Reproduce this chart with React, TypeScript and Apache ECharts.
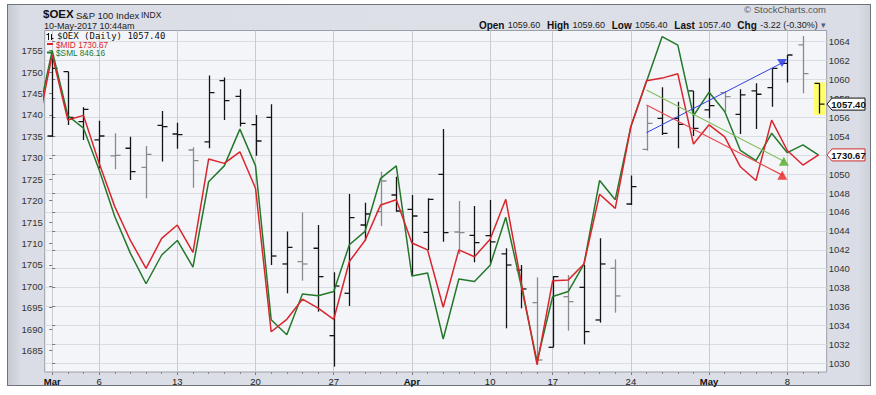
import React, { useEffect, useRef } from 'react';
import * as echarts from 'echarts';

// ---- data ----
const dates = [
  '2017-03-01', '2017-03-02', '2017-03-03', '2017-03-06', '2017-03-07', '2017-03-08', '2017-03-09', '2017-03-10',
  '2017-03-13', '2017-03-14', '2017-03-15', '2017-03-16', '2017-03-17', '2017-03-20', '2017-03-21', '2017-03-22',
  '2017-03-23', '2017-03-24', '2017-03-27', '2017-03-28', '2017-03-29', '2017-03-30', '2017-03-31',
  '2017-04-03', '2017-04-04', '2017-04-05', '2017-04-06', '2017-04-07', '2017-04-10', '2017-04-11', '2017-04-12',
  '2017-04-13', '2017-04-17', '2017-04-18', '2017-04-19', '2017-04-20', '2017-04-21', '2017-04-24', '2017-04-25',
  '2017-04-26', '2017-04-27', '2017-04-28',
  '2017-05-01', '2017-05-02', '2017-05-03', '2017-05-04', '2017-05-05', '2017-05-08', '2017-05-09', '2017-05-10',
];
// $OEX daily OHLC (right axis)
const oexOpen = [
  1054.03, 1060.83, 1055.55, 1053.61, 1051.92, 1052.73, 1050.72, 1055.16, 1054.24, 1052.55,
  1053.40, 1059.88, 1058.22, 1055.23, 1056.00, 1040.50, 1040.75, 1042.16, 1032.92, 1037.40,
  1044.62, 1046.03, 1047.79, 1046.28, 1043.85, 1049.98, 1043.88, 1043.53, 1043.49, 1041.56,
  1039.86, 1036.41, 1031.69, 1037.04, 1038.03, 1034.58, 1040.04, 1046.84, 1052.62, 1055.90,
  1055.90, 1058.79, 1056.78, 1058.61, 1056.32, 1058.79, 1059.14, 1061.71, 1063.65, 1059.60,
];
const oexHigh = [
  1062.42, 1060.83, 1057.06, 1055.65, 1054.31, 1053.96, 1052.97, 1056.67, 1055.44, 1052.83,
  1060.41, 1060.20, 1058.96, 1056.25, 1057.38, 1043.92, 1045.93, 1044.62, 1039.62, 1047.90,
  1046.98, 1050.26, 1049.73, 1047.79, 1047.44, 1054.77, 1047.16, 1046.63, 1047.27, 1042.16,
  1040.39, 1039.09, 1039.23, 1039.33, 1040.39, 1043.21, 1040.99, 1049.84, 1057.31, 1059.18,
  1057.66, 1058.79, 1060.13, 1058.79, 1058.96, 1059.60, 1061.18, 1062.59, 1064.60, 1059.60,
];
const oexLow = [
  1053.96, 1055.19, 1053.61, 1050.61, 1050.51, 1049.38, 1047.44, 1051.32, 1052.69, 1048.57,
  1052.73, 1055.72, 1055.02, 1051.95, 1040.39, 1037.40, 1038.74, 1035.46, 1029.65, 1036.06,
  1042.97, 1044.51, 1046.03, 1039.23, 1041.98, 1042.86, 1041.56, 1040.68, 1040.57, 1033.70,
  1035.81, 1029.82, 1031.69, 1033.45, 1032.00, 1034.30, 1035.35, 1046.74, 1052.48, 1054.14,
  1052.73, 1054.03, 1055.90, 1056.60, 1054.24, 1054.77, 1057.13, 1059.67, 1058.54, 1056.40,
];
const oexClose = [
  1061.18, 1056.00, 1056.85, 1054.03, 1051.99, 1050.26, 1052.09, 1055.02, 1054.17, 1051.42,
  1058.61, 1057.77, 1055.37, 1053.50, 1041.34, 1042.26, 1040.50, 1039.16, 1038.17, 1045.40,
  1045.78, 1049.27, 1046.10, 1045.57, 1047.33, 1043.81, 1043.81, 1042.75, 1042.83, 1040.39,
  1037.86, 1030.35, 1039.16, 1036.52, 1033.35, 1040.50, 1037.12, 1048.67, 1055.37, 1054.31,
  1055.26, 1054.84, 1057.24, 1058.19, 1058.37, 1058.44, 1061.18, 1062.59, 1060.62, 1057.40,
];
// bars drawn in grey
const greyBars = [4, 6, 9, 16, 21, 26, 31, 33, 36, 38, 43, 48];

// overlays: first value is 2017-02-28 (partly visible at the left edge)
const priorDay = '2017-02-28';
const mid = [
  1736.0, 1754.0, 1738.8, 1739.9, 1728.7, 1718.6, 1710.7, 1704.2, 1711.2, 1714.3, 1707.9,
  1729.7, 1728.7, 1731.4, 1722.9, 1689.4, 1692.3, 1697.0, 1694.9, 1692.3, 1705.8,
  1710.7, 1719.0, 1720.2, 1710.1, 1708.5, 1695.1, 1708.5, 1706.9, 1711.0, 1720.3,
  1700.7, 1681.7, 1701.3, 1701.5, 1705.2, 1721.5, 1718.2, 1737.3, 1748.0, 1748.6,
  1749.6, 1733.2, 1737.7, 1734.9, 1727.9, 1724.7, 1738.8, 1731.7, 1728.3, 1730.67,
];
const sml = [
  849.76, 858.07, 850.64, 849.22, 844.48, 839.15, 834.94, 831.47, 834.75, 836.41, 833.38,
  843.11, 844.92, 849.12, 844.92, 827.37, 825.66, 830.30, 830.10, 830.59, 835.92,
  837.44, 843.50, 844.92, 832.35, 832.70, 825.17, 832.01, 831.72, 833.58, 839.05,
  831.13, 822.62, 830.01, 830.59, 833.72, 843.26, 841.06, 849.42, 854.55, 859.68,
  858.70, 850.64, 853.33, 851.13, 846.68, 845.51, 848.64, 846.43, 847.31, 846.16,
];

// tick labels
const midTicks = [1685, 1690, 1695, 1700, 1705, 1710, 1715, 1720, 1725, 1730, 1735, 1740, 1745, 1750, 1755];
const oexTicks = [1030, 1032, 1034, 1036, 1038, 1040, 1042, 1044, 1046, 1048, 1050, 1052, 1054, 1056, 1058, 1060, 1062, 1064];
// right-axis labels that are visible (1052 sits under the $MID price tag)
const oexLabels = [1030, 1032, 1034, 1036, 1038, 1040, 1042, 1044, 1046, 1048, 1050, 1054, 1056, 1058, 1060, 1062, 1064];

// annotation trend lines [dayIndex, value]
const blueTrend = [[38.0, 1054.38], [46.66, 1061.75]]; // on $OEX scale
const greenTrend = [[38.0, 1745.83], [46.78, 1729.21]]; // on $MID scale
const redTrend = [[38.0, 1742.33], [46.68, 1725.95]]; // on $MID scale

// ---- layout ----
const W = 876;
const H = 395;
const FONT = '"Liberation Sans", Arial, sans-serif';
const MONTHS = ['Jan', 'Feb', 'Mar', 'Apr', 'May', 'Jun', 'Jul', 'Aug', 'Sep', 'Oct', 'Nov', 'Dec'];

function buildAxisLabels() {
  const ticks: number[] = [];
  const labels: Record<number, string> = {};
  let lastMonth = -1;
  let prevDow = 99;
  dates.forEach((d, i) => {
    const dt = new Date(d + 'T00:00:00Z');
    const dow = dt.getUTCDay();
    if (i === 0 || dow < prevDow) {
      ticks.push(i);
      const m = dt.getUTCMonth();
      labels[i] = m !== lastMonth ? '{m|' + MONTHS[m] + '}' : String(dt.getUTCDate());
      lastMonth = m;
    }
    prevDow = dow;
  });
  return { ticks, labels };
}

export default function App() {
  const ref = useRef<HTMLDivElement>(null);

  useEffect(() => {
    if (!ref.current) return;
    const chart = echarts.init(ref.current, null, { renderer: 'svg', width: W, height: H });
    const { ticks: weekTicks, labels } = buildAxisLabels();
    const allDays = dates.map((_, i) => i);
    const last = dates.length - 1;
    const xMin = -0.48;
    const xMax = 49.52;

    const option: any = {
      animation: false,
      grid: {
        left: 44.7, top: 30.5, width: 782, height: 341.5,
        show: true, backgroundColor: '#f4f5f9', borderColor: '#9a9ea6', borderWidth: 1,
      },
      xAxis: [
        {
          type: 'value', min: xMin, max: xMax, position: 'bottom',
          axisLine: { show: false },
          axisTick: { show: true, customValues: weekTicks, length: 3, lineStyle: { color: '#777' } },
          axisLabel: {
            customValues: weekTicks, margin: 4, fontSize: 9.5, fontFamily: FONT, color: '#222',
            formatter: (v: number) => labels[Math.round(v)] ?? '',
            rich: { m: { fontSize: 9.5, fontFamily: FONT, fontWeight: 'bold', color: '#111' } },
          },
          splitLine: { show: true, lineStyle: { color: '#c7cbd3', width: 1 } },
        },
        {
          type: 'value', min: xMin, max: xMax, position: 'bottom',
          axisLine: { show: false },
          axisTick: { show: true, customValues: allDays, length: 2, lineStyle: { color: '#888' } },
          axisLabel: { show: false },
          splitLine: { show: false },
        },
      ],
      yAxis: [
        {
          type: 'value', position: 'left', min: 1680, max: 1759.71,
          axisLine: { show: false },
          axisTick: { show: true, customValues: midTicks, length: 3, lineStyle: { color: '#777' } },
          axisLabel: {
            customValues: midTicks, margin: 2, fontSize: 9.5, fontFamily: FONT, color: '#333',
            formatter: (v: number) => String(v),
          },
          splitLine: { show: false },
        },
        {
          type: 'value', position: 'right', min: 1029.08, max: 1065.18,
          axisLine: { show: false },
          axisTick: { show: true, customValues: oexTicks, length: 3, lineStyle: { color: '#777' } },
          axisLabel: {
            customValues: oexLabels, margin: 2, fontSize: 9.5, fontFamily: FONT, color: '#333',
            formatter: (v: number) => String(v),
          },
          splitLine: { show: true, lineStyle: { color: '#d9dce3', width: 1 } },
        },
        { type: 'value', show: false, min: 821.40, max: 860.37 },
      ],
      series: [
        {
          name: '$OEX', type: 'custom', xAxisIndex: 0, yAxisIndex: 1, z: 2, clip: true,
          data: dates.map((_, i) => [i, oexOpen[i], oexHigh[i], oexLow[i], oexClose[i]]),
          encode: { x: 0, y: [1, 2, 3, 4] },
          renderItem: (params: any, api: any) => {
            const i = api.value(0);
            const pO = api.coord([i, api.value(1)]);
            const pH = api.coord([i, api.value(2)]);
            const pL = api.coord([i, api.value(3)]);
            const pC = api.coord([i, api.value(4)]);
            const x = Math.round(pH[0]) + 0.5;
            const color = greyBars.includes(params.dataIndex) ? '#8a8a8a' : '#141414';
            const st = { stroke: color, lineWidth: 1.3 };
            const children: any[] = [];
            if (params.dataIndex === last) {
              children.push({
                type: 'rect',
                shape: { x: x - 6, y: pH[1] - 1, width: 11.5, height: pL[1] - pH[1] + 2.5 },
                style: { fill: '#ffff6e' },
              });
            }
            children.push({ type: 'line', shape: { x1: x, y1: pH[1], x2: x, y2: pL[1] }, style: st });
            children.push({ type: 'line', shape: { x1: x - 5, y1: pO[1], x2: x, y2: pO[1] }, style: st });
            children.push({ type: 'line', shape: { x1: x, y1: pC[1], x2: x + 5, y2: pC[1] }, style: st });
            return { type: 'group', children };
          },
        },
        {
          name: '$SML', type: 'line', xAxisIndex: 0, yAxisIndex: 2, z: 3,
          data: sml.map((v, i) => [i - 1, v]),
          symbol: 'none', lineStyle: { color: '#24782a', width: 1.5 },
        },
        {
          name: '$MID', type: 'line', xAxisIndex: 0, yAxisIndex: 0, z: 4,
          data: mid.map((v, i) => [i - 1, v]),
          symbol: 'none', lineStyle: { color: '#d9262c', width: 1.5 },
        },
        {
          type: 'line', xAxisIndex: 0, yAxisIndex: 1, z: 5, data: blueTrend,
          symbol: 'none', lineStyle: { color: '#3540e0', width: 1 },
        },
        {
          type: 'line', xAxisIndex: 0, yAxisIndex: 0, z: 5, data: greenTrend,
          symbol: 'none', lineStyle: { color: '#86bf5e', width: 1.2 },
        },
        {
          type: 'line', xAxisIndex: 0, yAxisIndex: 0, z: 5, data: redTrend,
          symbol: 'none', lineStyle: { color: '#e8474a', width: 1.2 },
        },
        {
          type: 'scatter', xAxisIndex: 0, yAxisIndex: 1, z: 6, data: [blueTrend[1]],
          symbol: 'triangle', symbolRotate: 180, symbolSize: [10, 8], itemStyle: { color: '#2233ee' },
        },
        {
          type: 'scatter', xAxisIndex: 0, yAxisIndex: 0, z: 6, data: [greenTrend[1], redTrend[1]],
          symbol: 'triangle', symbolSize: [10, 9],
          itemStyle: { color: (p: any) => (p.dataIndex === 0 ? '#4faa22' : '#ee2020') },
        },
      ],
    };
    chart.setOption(option);

    const lastClose = oexClose[last];
    const prevClose = oexClose[last - 1];
    const chg = lastClose - prevClose;
    const pct = (chg / prevClose) * 100;
    const midLast = mid[mid.length - 1];
    const smlLast = sml[sml.length - 1];
    const yOex = chart.convertToPixel({ yAxisIndex: 1 }, lastClose) as number;
    const yMid = chart.convertToPixel({ yAxisIndex: 0 }, midLast) as number;

    const tag = (y: number, text: string, stroke: string) => [
      {
        type: 'polygon', z: 50,
        shape: { points: [[827, y], [832, y - 6], [865, y - 6], [865, y + 6], [832, y + 6]] },
        style: { fill: '#ffffff', stroke, lineWidth: 1 },
      },
      {
        type: 'text', z: 51, x: 848.5, y: y + 0.5,
        style: { text, font: 'bold 9.5px ' + FONT, lineHeight: 10, fill: '#111', textAlign: 'center', textVerticalAlign: 'middle' },
      },
    ];

    const fmt = (v: number) => v.toFixed(2);
    const headerRich = {
      b: { font: 'bold 10px ' + FONT, fill: '#111' },
      v: { font: '9px ' + FONT, fill: '#222' },
      a: { font: '9px ' + FONT, fill: '#55607a' },
    };
    const headerLine =
      '{b|Open} {v|' + fmt(oexOpen[last]) + '}  {b|High} {v|' + fmt(oexHigh[last]) +
      '}  {b|Low} {v|' + fmt(oexLow[last]) + '}  {b|Last} {v|' + fmt(lastClose) +
      '}  {b|Chg} {v|' + fmt(chg) + ' (' + pct.toFixed(2) + '%)} {a|▾}';

    const graphic: any[] = [
      { type: 'text', x: 43, y: 14, style: { text: '$OEX', font: 'bold 11.5px ' + FONT, fill: '#111', textVerticalAlign: 'middle' } },
      { type: 'text', x: 76, y: 15, style: { text: 'S&P 100 Index', font: '9.5px ' + FONT, fill: '#222', textVerticalAlign: 'middle' } },
      { type: 'text', x: 141, y: 15, style: { text: 'INDX', font: '8.5px ' + FONT, fill: '#222', textVerticalAlign: 'middle' } },
      { type: 'text', x: 44, y: 25.5, style: { text: '10-May-2017 10:44am', font: '9px ' + FONT, lineHeight: 9, fill: '#222', textVerticalAlign: 'middle' } },
      { type: 'text', x: 826, y: 9, style: { text: '© StockCharts.com', font: '9.5px ' + FONT, fill: '#555', textAlign: 'right', textVerticalAlign: 'middle' } },
      { type: 'text', x: 826, y: 25, style: { text: headerLine, rich: headerRich, textAlign: 'right', textVerticalAlign: 'middle' } },
      // legend
      { type: 'line', z: 40, shape: { x1: 48.5, y1: 33, x2: 48.5, y2: 40 }, style: { stroke: '#111', lineWidth: 1 } },
      { type: 'line', z: 40, shape: { x1: 46.5, y1: 34.5, x2: 48.5, y2: 34.5 }, style: { stroke: '#111', lineWidth: 1 } },
      { type: 'line', z: 40, shape: { x1: 51.5, y1: 34, x2: 51.5, y2: 40 }, style: { stroke: '#111', lineWidth: 1 } },
      { type: 'line', z: 40, shape: { x1: 51.5, y1: 38.5, x2: 53.5, y2: 38.5 }, style: { stroke: '#111', lineWidth: 1 } },
      { type: 'text', z: 40, x: 57, y: 36, style: { text: '$OEX (Daily) ' + fmt(lastClose), font: '9px "DejaVu Sans Mono", monospace', lineHeight: 8, fill: '#111', textVerticalAlign: 'middle' } },
      { type: 'rect', z: 40, shape: { x: 47, y: 43, width: 6, height: 2 }, style: { fill: '#d9262c' } },
      { type: 'text', z: 40, x: 56, y: 44.5, style: { text: '$MID ' + fmt(midLast), font: '8.3px ' + FONT, lineHeight: 8, fill: '#d9262c', textVerticalAlign: 'middle' } },
      { type: 'rect', z: 40, shape: { x: 47, y: 51.5, width: 6, height: 2 }, style: { fill: '#24782a' } },
      { type: 'text', z: 40, x: 56, y: 53, style: { text: '$SML ' + fmt(smlLast), font: '8.3px ' + FONT, lineHeight: 8, fill: '#24782a', textVerticalAlign: 'middle' } },
      ...tag(yOex, fmt(lastClose), '#111'),
      ...tag(yMid, fmt(midLast), '#cc2a2a'),
    ];
    chart.setOption({ graphic });

    return () => chart.dispose();
  }, []);

  return (
    <div style={{ position: 'fixed', left: 0, top: 0, width: W, height: H, background: '#ffffff' }}>
      <div
        style={{
          position: 'absolute', left: 7, top: 4, width: 862, height: 380,
          border: '1px solid #6e737c',
          background: 'linear-gradient(90deg, #c6cad3 0px, #dadde5 14px, #dde0e7 50%, #dadde5 calc(100% - 12px), #cdd1d9 100%)',
        }}
      />
      <div ref={ref} style={{ position: 'absolute', left: 0, top: 0, width: W, height: H }} />
    </div>
  );
}
